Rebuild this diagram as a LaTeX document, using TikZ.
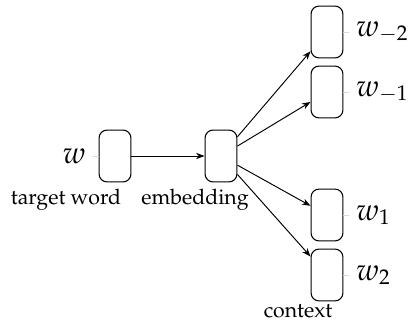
\documentclass[tikz,border=0pt]{standalone}
\usepackage[T1]{fontenc}
\usepackage{mathpazo}
\usetikzlibrary{arrows.meta}
\begin{document}
\begin{tikzpicture}[x=0.47pt,y=-0.47pt,
  unit/.style={draw, rounded corners=3.8pt, minimum width=15pt,
    minimum height=24.4pt, inner sep=0pt, line width=0.5pt},
  wpin/.style={pin distance=2.5pt, pin edge={gray!30, line width=0.4pt}},
  conn/.style={-{Stealth[length=4pt,width=3pt]}, line width=0.45pt},
  caption/.style={anchor=base, inner sep=0pt}]
\useasboundingbox (0,0) rectangle (409,329);
% input word and its embedding
\node[unit, pin={[wpin]left:{\Large$w$}}] (tw) at (115,156) {};
\node[unit] (emb) at (221,156) {};
% context words
\node[unit, pin={[wpin]right:{\Large$w_{-2}$}}] (c1) at (327,32) {};
\node[unit, pin={[wpin]right:{\Large$w_{-1}$}}] (c2) at (327,92) {};
\node[unit, pin={[wpin]right:{\Large$w_{1}$}}] (c3) at (327,215) {};
\node[unit, pin={[wpin]right:{\Large$w_{2}$}}] (c4) at (327,275) {};
% captions
\node[caption] (ltw) at (66,205) {target word};
\node[caption] (lemb) at (195,205) {embedding};
\node[caption] (lctx) at (298,317) {context};
% connections
\draw[conn] (tw) -- (emb);
\foreach \c in {c1,c2,c3,c4} \draw[conn] (emb) -- (\c);
\end{tikzpicture}
\end{document}
